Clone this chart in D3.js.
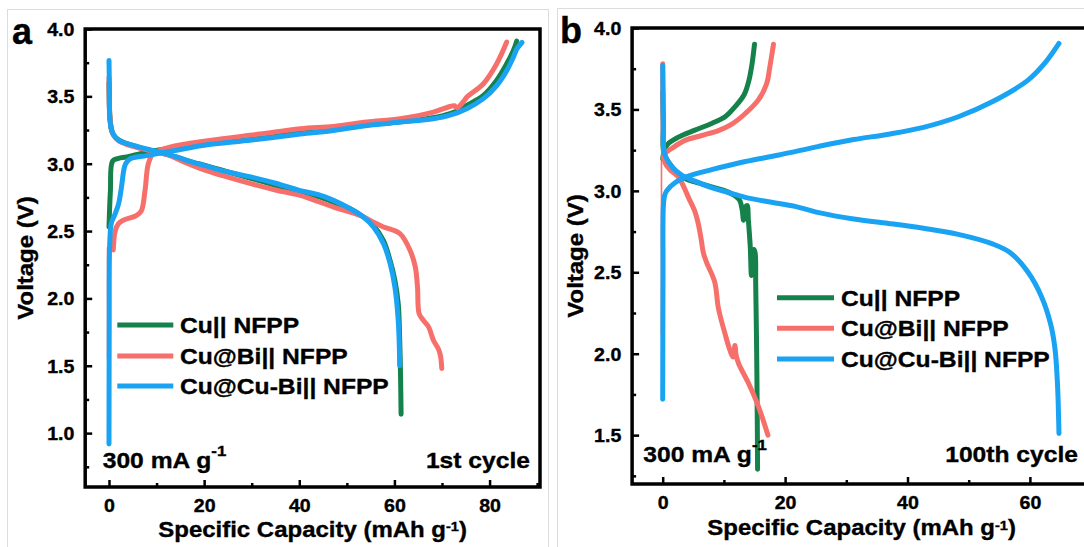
<!DOCTYPE html>
<html>
<head>
<meta charset="utf-8">
<script src="https://cdn.jsdelivr.net/npm/d3@7"></script>
<style>
  html, body { margin: 0; padding: 0; background: #fff; }
  svg { display: block; }
  text { font-family: "Liberation Sans", Arial, Helvetica, sans-serif; font-weight: bold; fill: #000; stroke: #000; stroke-width: 0.35px; }
</style>
</head>
<body>
<svg id="chart" width="1084" height="547"></svg>
<script>
// Galvanostatic charge/discharge profiles: [specific capacity (mAh g-1), voltage (V)]

// ---- 1st cycle ----
const cuChargeA = [[0,2.53],[0.3,2.8],[0.77,3.02],[2,3.04],[3.7,3.05],[7.9,3.086],[14.2,3.123],[20,3.15],[30,3.19],[40,3.23],[47,3.255],[54,3.286],[61,3.31],[66,3.33],[70,3.355],[73,3.39],[75.2,3.433],[78.7,3.507],[81.5,3.62],[83.6,3.742],[85,3.84],[85.7,3.91]];
const cuDischargeA = [[0,3.6],[0.2,3.35],[0.6,3.24],[1.5,3.19],[3,3.16],[5,3.135],[8,3.105],[11,3.08],[14,3.05],[17.7,3.01],[20,2.99],[25,2.94],[30,2.89],[35,2.84],[40,2.79],[44,2.755],[47.2,2.715],[50.7,2.665],[53.5,2.604],[55.6,2.54],[57.7,2.43],[59.1,2.28],[60.1,2.134],[60.8,1.96],[61.1,1.71],[61.3,1.4],[61.4,1.14]];
const biChargeA = [[0.9,2.36],[1.3,2.5],[2.0,2.555],[3.0,2.58],[5.8,2.616],[6.8,2.65],[7.57,2.8],[8.27,3.0],[9.3,3.074],[12.8,3.123],[21.2,3.173],[31.7,3.22],[40.2,3.26],[47.2,3.277],[54.2,3.309],[61.2,3.334],[68.2,3.383],[71.7,3.425],[72.6,3.43],[73.2,3.415],[74.5,3.46],[75.2,3.494],[78.7,3.594],[81.5,3.742],[83.6,3.903]];
const biDischargeA = [[0,3.64],[0.2,3.35],[0.8,3.22],[2,3.17],[4,3.14],[7,3.11],[10,3.085],[12.8,3.06],[16,3.01],[20,2.955],[25,2.9],[30,2.85],[35,2.805],[40.2,2.765],[47.2,2.678],[50.7,2.64],[53.5,2.604],[55.6,2.566],[57.7,2.53],[59.5,2.51],[61.2,2.48],[63.3,2.356],[64.4,2.232],[64.85,2.084],[65.2,1.886],[66.1,1.837],[67.2,1.787],[68.2,1.69],[69.3,1.62],[69.7,1.57],[69.95,1.48]];
const biRestA = [[-0.3,1.55],[-0.3,2.38]];
const cuBiChargeA = [[0,0.92],[0.05,1.8],[0.15,2.4],[0.5,2.56],[1.2,2.62],[2.0,2.7],[2.6,2.82],[3.1,2.95],[3.5,3.0],[4.4,3.035],[7.9,3.06],[14.2,3.1],[20,3.137],[30,3.176],[40.2,3.22],[47.2,3.247],[54.2,3.284],[61.2,3.309],[68.2,3.334],[71.7,3.36],[75.2,3.408],[78.7,3.483],[81.5,3.58],[83.6,3.69],[85,3.79],[85.7,3.85],[86.8,3.9]];
const cuBiDischargeA = [[0,3.767],[0.1,3.55],[0.2,3.32],[0.9,3.22],[2.2,3.17],[4.4,3.143],[7.9,3.11],[10.7,3.086],[14.2,3.05],[17.7,3.01],[21.2,2.975],[24.75,2.94],[30,2.9],[35,2.855],[40.2,2.8],[44,2.77],[47.2,2.728],[50.7,2.666],[53.5,2.604],[55.6,2.53],[57.7,2.406],[59.1,2.258],[60.1,2.084],[60.8,1.837],[61.05,1.614],[61.1,1.5]];

// ---- 100th cycle ----
const cuChargeB = [[0,3.2],[0.3,3.25],[0.9,3.29],[2.55,3.33],[5.27,3.373],[8,3.414],[10.2,3.455],[11.8,3.516],[13.3,3.59],[14.1,3.68],[14.6,3.78],[15.0,3.9]];
const cuDischargeB = [[0,3.61],[0.1,3.4],[0.2,3.23],[1.47,3.15],[3.1,3.086],[5.27,3.055],[8,3.025],[10.2,3.0],[11.8,2.97],[12.6,2.94],[13.0,2.88],[13.2,2.82],[13.5,2.9],[13.8,2.91],[14.0,2.82],[14.3,2.66],[14.5,2.48],[14.7,2.6],[14.9,2.64],[15.1,2.62],[15.2,2.42],[15.35,2.02],[15.45,1.61],[15.5,1.29]];
const biChargeB = [[0.1,3.2],[0.38,3.23],[1.47,3.26],[3.64,3.31],[6.37,3.34],[9.1,3.37],[11.3,3.41],[13.5,3.475],[15.6,3.557],[17.0,3.66],[17.5,3.76],[18.1,3.9]];
const biDischargeB = [[0,3.78],[0.05,3.5],[0.15,3.25],[0.4,3.17],[1.2,3.13],[2.55,3.086],[3.5,3.02],[4.2,2.96],[5.27,2.873],[5.8,2.8],[6.3,2.7],[6.64,2.62],[7.18,2.56],[8.5,2.44],[9.1,2.28],[10.2,2.12],[11.0,2.02],[11.5,1.98],[11.8,2.05],[12.0,1.99],[12.4,1.94],[14.0,1.82],[15.6,1.68],[17.2,1.5]];
const biRestB = [[-0.2,2.12],[-0.2,3.2]];
const cuBiChargeB = [[0,1.72],[0.05,2.5],[0.1,2.9],[0.3,2.97],[0.65,3.0],[2.0,3.05],[4.2,3.09],[8.0,3.13],[13.5,3.18],[19.0,3.22],[25.5,3.273],[31.2,3.315],[36.9,3.348],[42.6,3.39],[48.3,3.455],[54.0,3.55],[59.7,3.68],[62.5,3.787],[64.75,3.905]];
const cuBiDischargeB = [[0,3.77],[0.05,3.6],[0.1,3.43],[0.3,3.23],[1.47,3.15],[3.1,3.096],[5.27,3.06],[8,3.02],[10.7,2.99],[13.5,2.96],[17.8,2.93],[21.6,2.905],[25.5,2.866],[31.2,2.827],[36.9,2.8],[42.6,2.77],[48.3,2.733],[54.0,2.673],[56.8,2.62],[59.7,2.5],[61.9,2.35],[63.4,2.18],[64.1,2.03],[64.5,1.82],[64.75,1.51]];

// ---- labels and ticks ----
const seriesNames = ["Cu|| NFPP", "Cu@Bi|| NFPP", "Cu@Cu-Bi|| NFPP"];
const seriesColors = ["#15824c", "#f66f6a", "#1aa3f3"];
const xMajorA = [0, 20, 40, 60, 80];
const xMinorA = [10, 30, 50, 70, 90];
const yMajorA = [1.0, 1.5, 2.0, 2.5, 3.0, 3.5, 4.0];
const yMinorA = [0.75, 1.25, 1.75, 2.25, 2.75, 3.25, 3.75];
const xMajorB = [0, 20, 40, 60];
const xMinorB = [10, 30, 50, 70];
const yMajorB = [1.5, 2.0, 2.5, 3.0, 3.5, 4.0];
const yMinorB = [1.25, 1.75, 2.25, 2.75, 3.25, 3.75];

const svg = d3.select("#chart");
const SX = 1.12; // horizontal glyph stretch of the lettering

// light panel outlines
svg.append("rect").attr("x", 7.5).attr("y", 9.5).attr("width", 541).attr("height", 560)
  .attr("fill", "none").attr("stroke", "#dcdcdc").attr("stroke-width", 1);
svg.append("rect").attr("x", 557.5).attr("y", 8.5).attr("width", 560).attr("height", 560)
  .attr("fill", "none").attr("stroke", "#dcdcdc").attr("stroke-width", 1);

function stretchedText(parent, x, y, anchor, size, rot) {
  return parent.append("text")
    .attr("transform", `translate(${x},${y})` + (rot ? ` rotate(${rot})` : "") + ` scale(${SX},1)`)
    .attr("text-anchor", anchor)
    .attr("font-size", size);
}

function drawPanel(cfg) {
  const g = svg.append("g");
  const x = d3.scaleLinear().domain(cfg.xDom).range([cfg.x0, cfg.x1]);
  const y = d3.scaleLinear().domain(cfg.yDom).range([cfg.y1, cfg.y0]);

  const line = d3.line()
    .x(d => x(d[0])).y(d => y(d[1]))
    .curve(d3.curveCatmullRom.alpha(0.5));

  // thin rest segments
  cfg.rest.forEach(r => {
    g.append("path").datum(r.data).attr("d", line)
      .attr("fill", "none").attr("stroke", seriesColors[r.s])
      .attr("stroke-width", 1.6);
  });

  // charge / discharge curves
  cfg.curves.forEach(c => {
    g.append("path").datum(c.data).attr("d", line)
      .attr("fill", "none").attr("stroke", seriesColors[c.s])
      .attr("stroke-width", cfg.lw)
      .attr("stroke-linecap", "round").attr("stroke-linejoin", "round");
  });

  // frame
  g.append("rect").attr("x", cfg.x0).attr("y", cfg.y0)
    .attr("width", cfg.x1 - cfg.x0).attr("height", cfg.y1 - cfg.y0)
    .attr("fill", "none").attr("stroke", "#000").attr("stroke-width", 3.5);

  // axes with inward ticks
  const styleAxis = sel => {
    sel.select(".domain").remove();
    sel.selectAll(".tick line").attr("stroke", "#000").attr("stroke-width", 2.5);
    sel.attr("font-family", null).attr("font-size", null);
  };
  const xa = g.append("g").attr("transform", `translate(0,${cfg.y1})`)
    .call(d3.axisBottom(x).tickValues(cfg.xMajor).tickSize(-7).tickPadding(12.6).tickFormat(d3.format("d")));
  styleAxis(xa);
  xa.selectAll(".tick text").attr("font-size", 17.5).attr("fill", "#000").attr("transform", `scale(${SX},1)`);
  const xm = g.append("g").attr("transform", `translate(0,${cfg.y1})`)
    .call(d3.axisBottom(x).tickValues(cfg.xMinor).tickSize(-4).tickFormat(""));
  styleAxis(xm);

  const ya = g.append("g").attr("transform", `translate(${cfg.x0},0)`)
    .call(d3.axisLeft(y).tickValues(cfg.yMajor).tickSize(-7).tickPadding(9.6).tickFormat(d3.format(".1f")));
  styleAxis(ya);
  ya.selectAll(".tick text").attr("font-size", 17.5).attr("fill", "#000").attr("dy", "0.36em").attr("transform", `scale(${SX},1)`);
  const ym = g.append("g").attr("transform", `translate(${cfg.x0},0)`)
    .call(d3.axisLeft(y).tickValues(cfg.yMinor).tickSize(-4).tickFormat(""));
  styleAxis(ym);

  // axis titles
  const xt = stretchedText(g, (cfg.x0 + cfg.x1) / 2, cfg.xTitleY, "middle", 21.4);
  xt.append("tspan").text("Specific Capacity (mAh g");
  xt.append("tspan").attr("font-size", 13).attr("dy", -5.5).text("-1");
  xt.append("tspan").attr("dy", 5.5).text(")");
  stretchedText(g, cfg.yTitleX, cfg.yTitleY, "middle", 21.4, -90).text("Voltage (V)");

  // panel letter
  g.append("text").attr("x", cfg.letterX).attr("y", cfg.letterY)
    .attr("font-size", 36).text(cfg.letter);

  // current density and cycle annotations
  const cd = stretchedText(g, cfg.noteLeftX, cfg.noteY, "start", 22);
  cd.append("tspan").text("300 mA g");
  cd.append("tspan").attr("font-size", 15).attr("dy", -12).text("-1");
  stretchedText(g, cfg.noteRightX, cfg.noteY, "end", 22).text(cfg.cycle);

  // legend
  seriesNames.forEach((name, i) => {
    const ly = cfg.legY[i];
    g.append("line").attr("x1", cfg.legX0).attr("x2", cfg.legX1)
      .attr("y1", ly).attr("y2", ly)
      .attr("stroke", seriesColors[i]).attr("stroke-width", 5);
    stretchedText(g, cfg.legTextX, ly + 7.8, "start", 22).text(name);
  });
}

drawPanel({
  x0: 85.2, x1: 540, y0: 29, y1: 487,
  xDom: [-5, 90.6], yDom: [0.6, 4.0],
  xMajor: xMajorA, xMinor: xMinorA, yMajor: yMajorA, yMinor: yMinorA,
  lw: 5,
  rest: [{ s: 1, data: biRestA }],
  curves: [
    { s: 0, data: cuChargeA }, { s: 0, data: cuDischargeA },
    { s: 1, data: biChargeA }, { s: 1, data: biDischargeA },
    { s: 2, data: cuBiChargeA }, { s: 2, data: cuBiDischargeA }
  ],
  xTitleY: 536.7, yTitleX: 33, yTitleY: 258,
  letter: "a", letterX: 12, letterY: 44,
  noteLeftX: 102.7, noteRightX: 530, noteY: 468.3, cycle: "1st cycle",
  legY: [325, 356, 386], legX0: 117.3, legX1: 173.3, legTextX: 180
});

drawPanel({
  x0: 632.1, x1: 1091.1, y0: 28, y1: 484,
  xDom: [-5, 70], yDom: [1.2, 4.0],
  xMajor: xMajorB, xMinor: xMinorB, yMajor: yMajorB, yMinor: yMinorB,
  lw: 5,
  rest: [{ s: 1, data: biRestB }],
  curves: [
    { s: 0, data: cuChargeB }, { s: 0, data: cuDischargeB },
    { s: 1, data: biChargeB }, { s: 1, data: biDischargeB },
    { s: 2, data: cuBiChargeB }, { s: 2, data: cuBiDischargeB }
  ],
  xTitleY: 535, yTitleX: 583, yTitleY: 256,
  letter: "b", letterX: 560, letterY: 43,
  noteLeftX: 643.3, noteRightX: 1078, noteY: 461.7, cycle: "100th cycle",
  legY: [297.7, 328.3, 359], legX0: 777, legX1: 834, legTextX: 841
});
</script>
</body>
</html>
